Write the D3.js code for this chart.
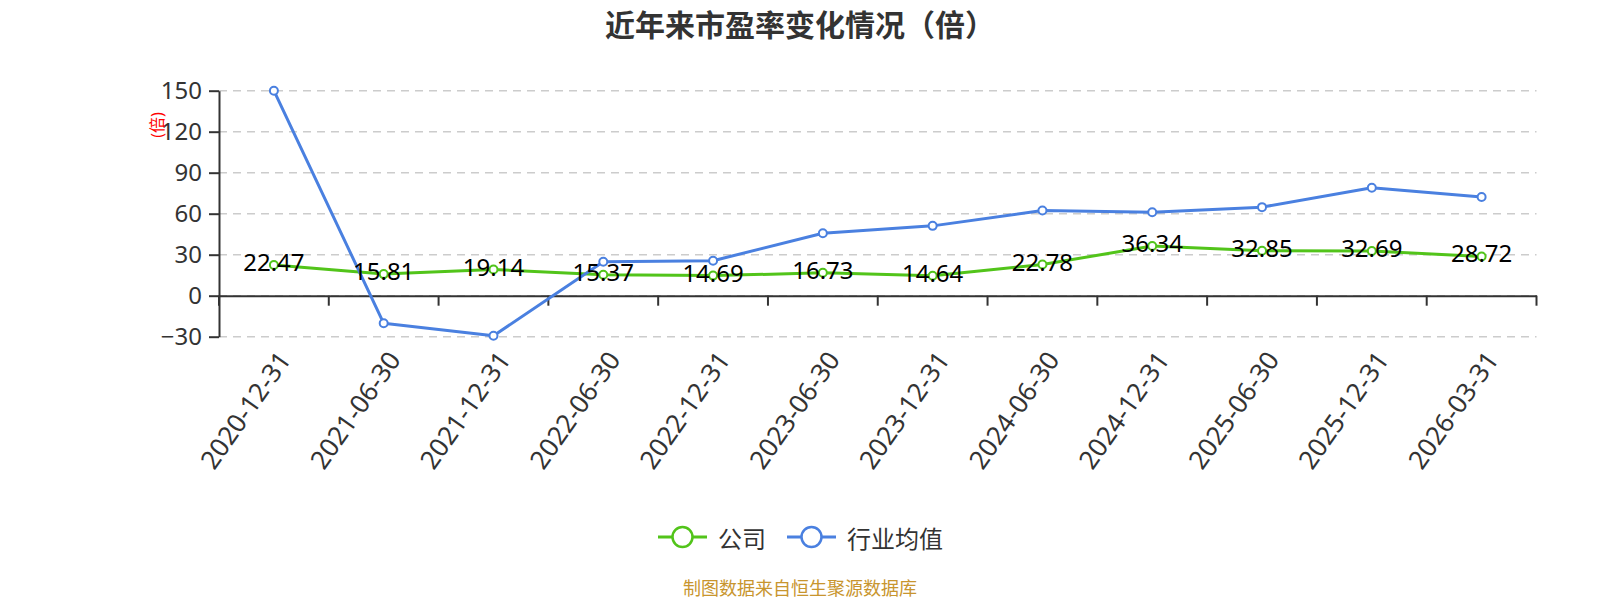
<!DOCTYPE html>
<html lang="zh">
<head>
  <meta charset="UTF-8">
  <title>近年来市盈率变化情况（倍）</title>
  <style>
    body {
      margin: 0;
      background: #fff;
      font-family: "Noto Sans", "Noto Sans CJK SC", sans-serif;
    }
    #chart {
      width: 1600px;
      height: 600px;
    }
  </style>
</head>
<body>
  <div id="chart"></div>

  <script src="https://d3js.org/d3.v7.min.js"></script>
  <script>
    // chart data
    const categories = [
      "2020-12-31", "2021-06-30", "2021-12-31", "2022-06-30",
      "2022-12-31", "2023-06-30", "2023-12-31", "2024-06-30",
      "2024-12-31", "2025-06-30", "2025-12-31", "2026-03-31"
    ];
    const companyPE = [22.47, 15.81, 19.14, 15.37, 14.69, 16.73, 14.64, 22.78, 36.34, 32.85, 32.69, 28.72];
    const industryPE = [150, -20.2, -29.3, 24.8, 25.6, 45.7, 51.1, 62.3, 61.0, 64.8, 79.0, 72.2];
    const yTicks = [-30, 0, 30, 60, 90, 120, 150];
    const seriesNames = ["公司", "行业均值"];

    const width = 1600;
    const height = 600;
    const plot = { left: 219, right: 1536.5, top: 90.7, bottom: 336.7 };
    const colors = { company: "#52c41a", industry: "#4a80e0" };

    const svg = d3.select("#chart").append("svg")
      .attr("width", width)
      .attr("height", height);

    // Scales
    const x = d3.scaleBand()
      .domain(categories)
      .range([plot.left, plot.right]);

    const y = d3.scaleLinear()
      .domain([-30, 150])
      .range([plot.bottom, plot.top]);

    const cx = d => x(d) + x.bandwidth() / 2;

    // Title
    svg.append("text")
      .attr("x", 800)
      .attr("y", 23)
      .attr("text-anchor", "middle")
      .attr("dominant-baseline", "central")
      .attr("font-size", 30)
      .attr("font-weight", "bold")
      .attr("fill", "#333")
      .style("font-family", "'Noto Sans CJK SC', sans-serif")
      .text("近年来市盈率变化情况（倍）");

    // Grid lines
    svg.append("g")
      .selectAll("line")
      .data(yTicks)
      .enter()
      .append("line")
      .attr("x1", plot.left)
      .attr("x2", plot.right)
      .attr("y1", d => y(d))
      .attr("y2", d => y(d))
      .attr("stroke", "#cccccc")
      .attr("stroke-width", 1.5)
      .attr("stroke-dasharray", "8,6");

    // Y axis
    const yAxis = svg.append("g")
      .attr("transform", `translate(${plot.left}, 0)`)
      .call(d3.axisLeft(y).tickValues(yTicks).tickSize(10).tickSizeOuter(0).tickPadding(7));

    yAxis.select(".domain").attr("stroke", "#333").attr("stroke-width", 2);
    yAxis.selectAll(".tick line").attr("stroke", "#333").attr("stroke-width", 2);
    yAxis.selectAll(".tick text")
      .attr("font-size", 24)
      .attr("fill", "#333")
      .style("font-family", "'Noto Sans', sans-serif");

    // Y axis unit label
    svg.append("text")
      .attr("transform", "translate(157, 125) rotate(-90)")
      .attr("text-anchor", "middle")
      .attr("dominant-baseline", "central")
      .attr("font-size", 16)
      .attr("fill", "#ff0000")
      .text("(倍)");

    // X axis at zero, ticks on band boundaries
    const xAxis = svg.append("g")
      .attr("transform", `translate(0, ${y(0)})`)
      .call(d3.axisBottom(x).tickSize(0).tickSizeOuter(0).tickFormat(""));

    xAxis.select(".domain").attr("stroke", "#333").attr("stroke-width", 2);

    const boundaries = categories.map(c => x(c)).concat([x.range()[1]]);
    xAxis.selectAll(".bound")
      .data(boundaries)
      .enter()
      .append("line")
      .attr("class", "bound")
      .attr("x1", d => d)
      .attr("x2", d => d)
      .attr("y1", 0)
      .attr("y2", 10)
      .attr("stroke", "#333")
      .attr("stroke-width", 2);

    // X labels
    svg.append("g")
      .selectAll("text")
      .data(categories)
      .enter()
      .append("text")
      .attr("transform", d => `translate(${cx(d) + 10}, 354) rotate(-55)`)
      .attr("text-anchor", "end")
      .attr("dominant-baseline", "central")
      .attr("font-size", 26)
      .attr("fill", "#333")
      .text(d => d);

    // Lines
    const line = d3.line()
      .x((d, i) => cx(categories[i]))
      .y(d => y(d));

    const series = [
      { name: seriesNames[0], values: companyPE, color: colors.company },
      { name: seriesNames[1], values: industryPE, color: colors.industry }
    ];

    series.forEach(s => {
      svg.append("path")
        .datum(s.values)
        .attr("fill", "none")
        .attr("stroke", s.color)
        .attr("stroke-width", 3)
        .attr("stroke-linejoin", "round")
        .attr("d", line);

      svg.append("g")
        .selectAll("circle")
        .data(s.values)
        .enter()
        .append("circle")
        .attr("cx", (d, i) => cx(categories[i]))
        .attr("cy", d => y(d))
        .attr("r", 4)
        .attr("fill", "#fff")
        .attr("stroke", s.color)
        .attr("stroke-width", 2);
    });

    // Data labels for company
    svg.append("g")
      .selectAll("text")
      .data(companyPE)
      .enter()
      .append("text")
      .attr("x", (d, i) => cx(categories[i]))
      .attr("y", d => y(d) + 6)
      .attr("text-anchor", "middle")
      .attr("font-size", 24)
      .attr("fill", "#000")
      .text(d => d.toFixed(2));

    // Legend
    const legendItems = [
      { name: seriesNames[0], color: colors.company, x: 658 },
      { name: seriesNames[1], color: colors.industry, x: 787 }
    ];

    const legend = svg.append("g")
      .selectAll("g")
      .data(legendItems)
      .enter()
      .append("g")
      .attr("transform", d => `translate(${d.x}, 537)`);

    legend.append("line")
      .attr("x1", 0)
      .attr("x2", 49)
      .attr("stroke", d => d.color)
      .attr("stroke-width", 3);

    legend.append("circle")
      .attr("cx", 24.5)
      .attr("r", 10)
      .attr("fill", "#fff")
      .attr("stroke", d => d.color)
      .attr("stroke-width", 2.5);

    legend.append("text")
      .attr("x", 60)
      .attr("dominant-baseline", "central")
      .attr("font-size", 24)
      .attr("fill", "#333")
      .style("font-family", "'Noto Sans CJK SC', sans-serif")
      .text(d => d.name);

    // Source note
    svg.append("text")
      .attr("x", 800)
      .attr("y", 587)
      .attr("text-anchor", "middle")
      .attr("dominant-baseline", "central")
      .attr("font-size", 18)
      .attr("fill", "#c8952e")
      .style("font-family", "'Noto Sans CJK SC', sans-serif")
      .text("制图数据来自恒生聚源数据库");
  </script>
</body>
</html>
